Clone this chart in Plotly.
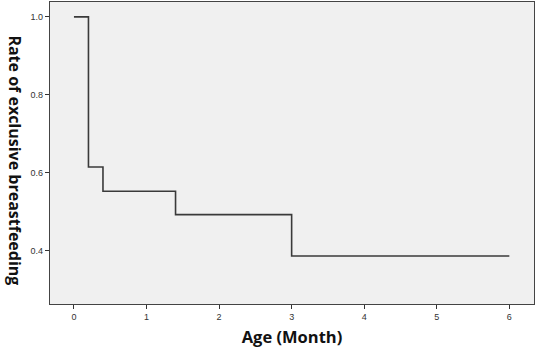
import plotly.graph_objects as go

# Step (Kaplan-Meier style) data
age_month = [0.0, 0.2, 0.4, 1.4, 3.0, 6.0]
rate = [1.0, 0.615, 0.553, 0.493, 0.387, 0.387]

x_ticks = [0, 1, 2, 3, 4, 5, 6]
y_ticks = [0.4, 0.6, 0.8, 1.0]
y_tick_labels = ["0.4", "0.6", "0.8", "1.0"]

fig = go.Figure()
fig.add_trace(go.Scatter(
    x=age_month, y=rate, mode="lines",
    line=dict(shape="hv", color="#3a3a3a", width=1.6),
    showlegend=False, hoverinfo="skip"))

fig.update_layout(
    width=536, height=357,
    margin=dict(l=50, r=2, t=2, b=53, autoexpand=False),
    paper_bgcolor="white", plot_bgcolor="#f0f0f0",
    font=dict(family="Liberation Sans, Arial", size=9, color="#333"),
    xaxis=dict(range=[-0.33, 6.34], tickvals=x_ticks, ticks="outside", ticklen=4,
               tickcolor="#333", showgrid=False, zeroline=False, automargin=False,
               showline=True, linecolor="#444", linewidth=1.3, mirror=True,
               title=dict(text="<b>Age (Month)</b>", standoff=10,
                          font=dict(family="Open Sans", size=16.5, color="#111"))),
    yaxis=dict(range=[0.264, 1.038], tickvals=y_ticks, ticktext=y_tick_labels,
               ticks="outside", ticklen=4, tickcolor="#333", automargin=False,
               showgrid=False, zeroline=False,
               showline=True, linecolor="#444", linewidth=1.3, mirror=True),
    annotations=[dict(text="<b>Rate of exclusive breastfeeding</b>",
                      xref="paper", yref="paper", x=-0.072, y=0.475,
                      xanchor="center", yanchor="middle",
                      textangle=90, showarrow=False,
                      font=dict(family="Open Sans", size=16, color="#111"))],
)

fig.write_html("out.html", post_script="document.body.style.margin='0';",
               config={"displayModeBar": False})
